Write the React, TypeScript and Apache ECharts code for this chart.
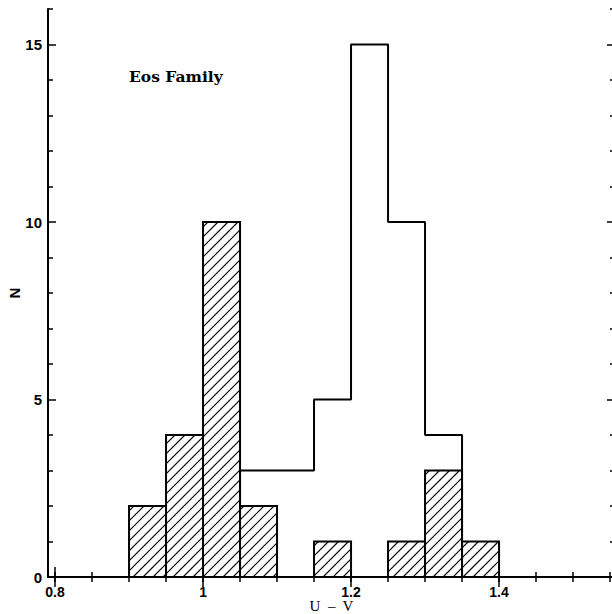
import React, { useEffect, useRef } from "react";
import * as echarts from "echarts";

// Histogram bins (U - V), width 0.05
const hatchedBinStarts = [0.9, 0.95, 1.0, 1.05, 1.15, 1.25, 1.3, 1.35];
const hatchedCounts = [2, 4, 10, 2, 1, 1, 3, 1];
const openBinStarts = [1.05, 1.1, 1.15, 1.2, 1.25, 1.3];
const openCounts = [3, 3, 5, 15, 10, 4];
const BIN_WIDTH = 0.05;

const xMajorTicks = [0.8, 1.0, 1.2, 1.4];
const xMinorTicks = [0.8, 0.85, 0.9, 0.95, 1.0, 1.05, 1.1, 1.15, 1.2, 1.25, 1.3, 1.35, 1.4, 1.45, 1.5, 1.55];
const yMajorTicks = [0, 5, 10, 15];
const yMinorTicks = [1, 2, 3, 4, 6, 7, 8, 9, 11, 12, 13, 14, 16];

const X_MIN = 0.7905;
const X_MAX = 1.5567;
const Y_MIN = 0;
const Y_MAX = 16;

export default function App() {
  const ref = useRef<HTMLDivElement>(null);

  useEffect(() => {
    if (!ref.current) return;
    const chart = echarts.init(ref.current, undefined, { renderer: "svg" });

    const hatchedData = hatchedBinStarts.map((s, i) => [s, +(s + BIN_WIDTH).toFixed(3), hatchedCounts[i]]);
    const openLine: number[][] = [[openBinStarts[0], 0]];
    openBinStarts.forEach((s, i) => {
      openLine.push([s, openCounts[i]]);
      openLine.push([+(s + BIN_WIDTH).toFixed(3), openCounts[i]]);
    });
    openLine.push([+(openBinStarts[openBinStarts.length - 1] + BIN_WIDTH).toFixed(3), 0]);

    const labelFont = {
      fontFamily: "Liberation Sans, Arial, sans-serif",
      fontWeight: "bold" as const,
      fontSize: 14,
      color: "#000",
    };
    const axisLine = { show: true, lineStyle: { color: "#000", width: 2 } };

    const mkX = (position: "top" | "bottom", ticks: number[], len: number, labels: boolean, showLine: boolean, extra: any = {}) => ({
      type: "value",
      min: X_MIN,
      max: X_MAX,
      position,
      axisLine: showLine ? axisLine : { show: false },
      axisTick: { show: true, inside: true, length: len, customValues: ticks, lineStyle: { color: "#000", width: 1.5 } },
      axisLabel: labels
        ? { show: true, customValues: xMajorTicks, margin: 8, ...labelFont, formatter: (v: number) => String(+v.toFixed(2)) }
        : { show: false },
      splitLine: { show: false },
      ...extra,
    });
    const mkY = (position: "left" | "right", ticks: number[], len: number, labels: boolean, showLine: boolean, extra: any = {}) => ({
      type: "value",
      min: Y_MIN,
      max: Y_MAX,
      position,
      axisLine: showLine ? axisLine : { show: false },
      axisTick: { show: true, inside: true, length: len, customValues: ticks, lineStyle: { color: "#000", width: 1.5 } },
      axisLabel: labels ? { show: true, customValues: yMajorTicks, margin: 6, ...labelFont, fontSize: 15 } : { show: false },
      splitLine: { show: false },
      ...extra,
    });

    chart.setOption({
      animation: false,
      backgroundColor: "#fff",
      grid: { left: 48, right: 5, top: 9, bottom: 37, containLabel: false, outerBoundsMode: "none" },
      xAxis: [
        mkX("bottom", xMajorTicks, 10, true, true, {
          name: "U  –  V",
          nameLocation: "middle",
          nameGap: 21,
          nameMoveOverlap: false,
          nameTextStyle: { fontFamily: "Liberation Serif, serif", fontSize: 15, color: "#000" },
        }),
        mkX("bottom", xMinorTicks, 5, false, false),
        mkX("top", xMajorTicks, 10, false, true),
        mkX("top", xMinorTicks, 5, false, false),
      ],
      yAxis: [
        mkY("left", yMajorTicks, 8, true, true, {
          name: "N",
          nameLocation: "middle",
          nameGap: 26,
          nameMoveOverlap: false,
          nameRotate: 90,
          nameTextStyle: { fontFamily: "Liberation Sans, sans-serif", fontWeight: "bold", fontSize: 15, color: "#000" },
        }),
        mkY("left", yMinorTicks, 5, false, false),
        mkY("right", yMajorTicks, 8, false, true),
        mkY("right", yMinorTicks, 5, false, false),
      ],
      graphic: [
        {
          type: "text",
          left: 129,
          top: 68,
          style: {
            text: "Eos Family",
            fontFamily: "DejaVu Serif, serif",
            fontWeight: "bold",
            fontSize: 15.5,
            fill: "#000",
          },
        },
      ],
      series: [
        {
          type: "custom",
          xAxisIndex: 0,
          yAxisIndex: 0,
          data: hatchedData,
          renderItem: (params: any, api: any) => {
            const x0 = api.value(0);
            const x1 = api.value(1);
            const v = api.value(2);
            const p0 = api.coord([x0, v]);
            const p1 = api.coord([x1, 0]);
            const L = p0[0], T = p0[1], R = p1[0], B = p1[1];
            const s = 10;
            const children: any[] = [
              { type: "rect", shape: { x: L, y: T, width: R - L, height: B - T }, style: { fill: "#fff" } },
            ];
            for (let c = Math.ceil((L + T) / s) * s; c < R + B; c += s) {
              const xa = Math.max(L, c - B);
              const xb = Math.min(R, c - T);
              if (xb > xa) {
                children.push({
                  type: "line",
                  shape: { x1: xa, y1: c - xa, x2: xb, y2: c - xb },
                  style: { stroke: "#000", lineWidth: 1.1 },
                });
              }
            }
            children.push({
              type: "rect",
              shape: { x: L, y: T, width: R - L, height: B - T },
              style: { fill: "none", stroke: "#000", lineWidth: 2 },
            });
            return { type: "group", children };
          },
          z: 2,
        },
        {
          type: "line",
          xAxisIndex: 0,
          yAxisIndex: 0,
          data: openLine,
          symbol: "none",
          lineStyle: { color: "#000", width: 2 },
          z: 3,
        },
      ],
    });

    return () => chart.dispose();
  }, []);

  return (
    <div style={{ position: "fixed", left: 0, top: 0, width: 612, height: 614, overflow: "hidden", background: "#fff" }}>
      <div ref={ref} style={{ width: 620, height: 614 }} />
    </div>
  );
}
